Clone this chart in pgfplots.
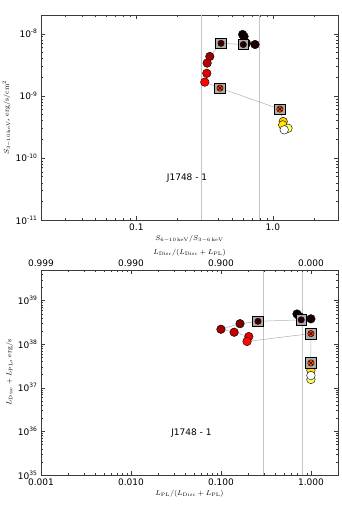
\documentclass[border=0pt]{standalone}
\usepackage[no-math]{fontspec}
\setmainfont{DejaVu Sans}
\usepackage{pgfplots}
\usepackage{pgfplotstable}
\pgfplotsset{compat=1.18}

\definecolor{vline}{HTML}{C4C4C4}
\definecolor{trail}{HTML}{B0B0B0}
\definecolor{frame}{HTML}{3A3A3A}

% x, y, colour value (time), sq = 1 for the square points
\pgfplotstableread{
x      y        c     sq
0.600  9.7e-9   0.01  0
0.615  9.0e-9   0.03  0
0.740  6.7e-9   0.04  0
0.640  7.0e-9   0.06  0
0.607  6.7e-9   0.08  1
0.417  7.0e-9   0.13  1
0.345  4.3e-9   0.22  0
0.330  3.37e-9  0.27  0
0.328  2.3e-9   0.32  0
0.317  1.66e-9  0.37  0
0.410  1.33e-9  0.44  1
1.125  6.1e-10  0.47  1
1.190  3.85e-10 0.68  0
1.180  3.4e-10  0.71  0
1.290  3.0e-10  0.85  0
1.210  2.83e-10 1.00  0
}\toptab

\pgfplotstableread{
x      y        c     sq
0.700  4.9e38   0.01  0
0.745  4.3e38   0.02  0
1.000  3.8e38   0.03  0
0.760  3.9e38   0.05  0
0.780  3.6e38   0.08  1
0.258  3.33e38  0.12  1
0.163  2.94e38  0.18  0
0.100  2.19e38  0.23  0
0.140  1.87e38  0.28  0
0.204  1.49e38  0.33  0
0.195  1.15e38  0.38  0
1.000  1.74e38  0.44  1
1.000  3.7e37   0.49  1
1.000  2.5e37   0.70  0
1.000  1.55e37  0.85  0
1.000  1.9e37   1.00  0
}\bottab

\pgfplotsset{
  colormap={mhot}{rgb(0pt)=(0,0,0); rgb(365pt)=(1,0,0); rgb(746pt)=(1,1,0); rgb(1000pt)=(1,1,1)},
  panel/.style={
    scale only axis, width=297pt, height=205pt,
    anchor=south west,
    axis line style={frame, line width=0.8pt},
    tick style={frame},
    tick align=inside,
    major tick length=4pt, minor tick length=2pt,
    ticklabel style={font=\fontsize{9}{10}\selectfont},
    label style={font=\fontsize{7.5}{9}\selectfont},
    clip mode=individual,
  },
  dots/.style={only marks, scatter, mark=*, mark size=4.3pt,
    point meta=\thisrow{c}, point meta min=0, point meta max=1,
    scatter/use mapped color={draw=black, fill=mapped color},
    restrict expr to domain={\thisrow{sq}}{0:0}},
  boxes/.style={only marks, mark=square*, mark size=5.3pt,
    mark options={fill=gray!65, draw=black, line width=0.6pt},
    restrict expr to domain={\thisrow{sq}}{1:1}},
  boxdots/.style={only marks, scatter, mark=*, mark size=3.2pt,
    point meta=\thisrow{c}, point meta min=0, point meta max=1,
    scatter/use mapped color={draw=black, fill=mapped color},
    restrict expr to domain={\thisrow{sq}}{1:1}},
  boxcross/.style={only marks, mark=x, mark size=2.6pt,
    mark options={black, line width=0.5pt},
    restrict expr to domain={\thisrow{sq}}{1:1}},
  botx/.style={
    xmin=0.001, xmax=2,
    xtick={0.001,0.01,0.1,1},
    minor xtick={0.002,0.003,0.004,0.005,0.006,0.007,0.008,0.009,
      0.02,0.03,0.04,0.05,0.06,0.07,0.08,0.09,
      0.2,0.3,0.4,0.5,0.6,0.7,0.8,0.9,2},
  },
}

\begin{document}
\begin{tikzpicture}
\path[use as bounding box] (0,0) rectangle (341pt,511pt);

% ---- top panel: flux vs hardness
\begin{axis}[panel, at={(41pt,291pt)},
  xmode=log, ymode=log,
  xmin=0.02, xmax=3, ymin=1e-11, ymax=2e-8,
  xtick={0.1,1}, xticklabels={0.1,1.0},
  minor xtick={0.02,0.03,0.04,0.05,0.06,0.07,0.08,0.09,
    0.2,0.3,0.4,0.5,0.6,0.7,0.8,0.9,2,3},
  ytick={1e-11,1e-10,1e-9,1e-8},
  minor ytick={2e-11,3e-11,4e-11,5e-11,6e-11,7e-11,8e-11,9e-11,
    2e-10,3e-10,4e-10,5e-10,6e-10,7e-10,8e-10,9e-10,
    2e-9,3e-9,4e-9,5e-9,6e-9,7e-9,8e-9,9e-9,2e-8},
  yticklabels={10\textsuperscript{-11},10\textsuperscript{-10},10\textsuperscript{-9},10\textsuperscript{-8}},
  xlabel={$S_{6-10\,\mathrm{keV}}/S_{3-6\,\mathrm{keV}}$},
  ylabel={$S_{3-10\,\mathrm{keV}}$, $\mathrm{erg/s/cm^2}$},
  xlabel style={yshift=2pt},
  ylabel style={yshift=-2pt},
]
\addplot[vline, line width=0.8pt] coordinates {(0.3,1e-11) (0.3,2e-8)};
\addplot[vline, line width=0.8pt] coordinates {(0.8,1e-11) (0.8,2e-8)};
\addplot[trail, line width=0.5pt, mark=none] table[x=x, y=y] {\toptab};
\addplot[dots] table[x=x, y=y] {\toptab};
\addplot[boxes] table[x=x, y=y] {\toptab};
\addplot[boxdots] table[x=x, y=y] {\toptab};
\addplot[boxcross] table[x=x, y=y] {\toptab};
\node[font=\fontsize{9}{10}\selectfont] at (axis cs:0.235,4.8e-11) {J1748 - 1};
\end{axis}

% ---- bottom panel: luminosity vs power-law fraction
\begin{axis}[panel, botx, at={(41pt,36pt)},
  xmode=log, ymode=log, ymin=1e35, ymax=5e39,
  xticklabels={0.001,0.010,0.100,1.000},
  ytick={1e35,1e36,1e37,1e38,1e39},
  minor ytick={2e35,3e35,4e35,5e35,6e35,7e35,8e35,9e35,
    2e36,3e36,4e36,5e36,6e36,7e36,8e36,9e36,
    2e37,3e37,4e37,5e37,6e37,7e37,8e37,9e37,
    2e38,3e38,4e38,5e38,6e38,7e38,8e38,9e38,
    2e39,3e39,4e39,5e39},
  yticklabels={10\textsuperscript{35},10\textsuperscript{36},10\textsuperscript{37},10\textsuperscript{38},10\textsuperscript{39}},
  xlabel={$L_{\mathrm{PL}}/(L_{\mathrm{Disc}}+L_{\mathrm{PL}})$},
  ylabel={$L_{\mathrm{Disc}}+L_{\mathrm{PL}}$, $\mathrm{erg/s}$},
  xlabel style={yshift=2pt},
  ylabel style={yshift=-2pt},
]
\addplot[vline, line width=0.8pt] coordinates {(0.3,1e35) (0.3,5e39)};
\addplot[vline, line width=0.8pt] coordinates {(0.8,1e35) (0.8,5e39)};
\addplot[trail, line width=0.5pt, mark=none] table[x=x, y=y] {\bottab};
\addplot[dots] table[x=x, y=y] {\bottab};
\addplot[boxes] table[x=x, y=y] {\bottab};
\addplot[boxdots] table[x=x, y=y] {\bottab};
\addplot[boxcross] table[x=x, y=y] {\bottab};
\node[font=\fontsize{9}{10}\selectfont] at (axis cs:0.047,9.2e35) {J1748 - 1};
\end{axis}

% disc fraction on the top edge of the bottom panel
\begin{axis}[panel, botx, at={(41pt,36pt)},
  xmode=log, ymode=log, ymin=1e35, ymax=5e39,
  axis x line*=top, axis y line=none,
  xticklabels={0.999,0.990,0.900,0.000},
  xlabel={$L_{\mathrm{Disc}}/(L_{\mathrm{Disc}}+L_{\mathrm{PL}})$},
  xlabel style={yshift=-3pt},
]
\end{axis}
\end{tikzpicture}
\end{document}
